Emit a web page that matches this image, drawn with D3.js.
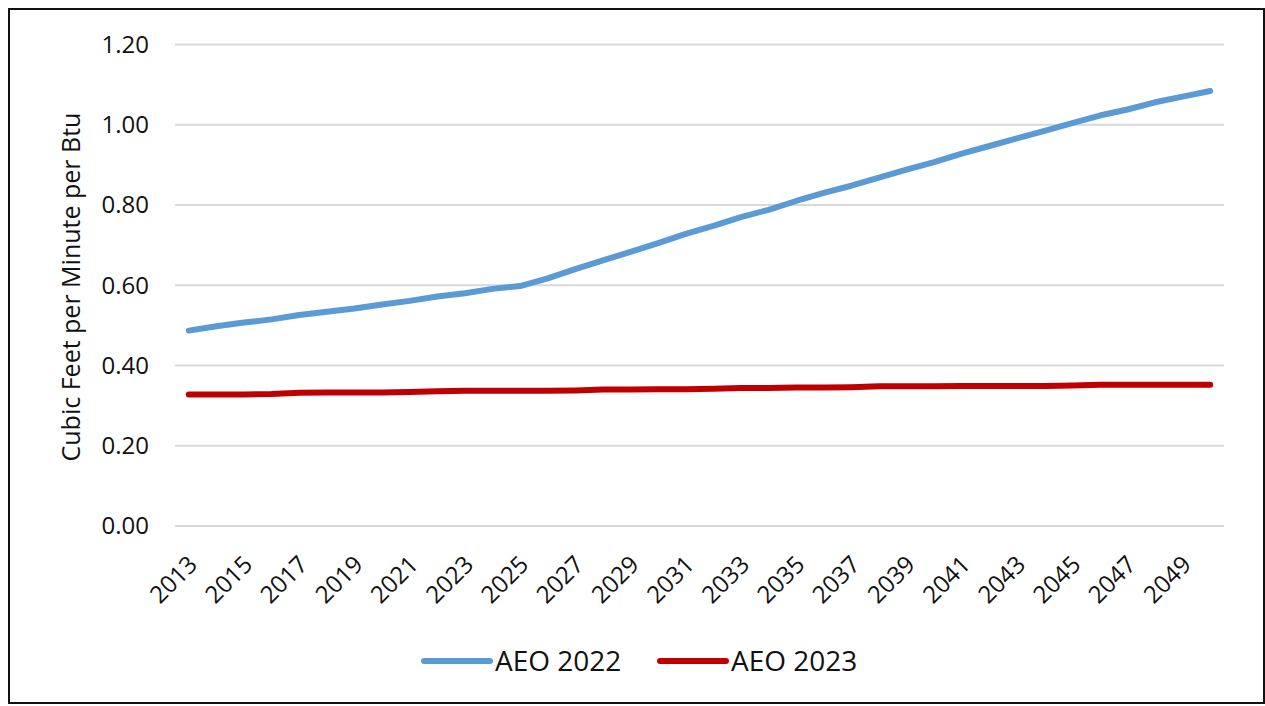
<!DOCTYPE html>
<html>
<head>
<meta charset="utf-8">
<script src="https://cdn.jsdelivr.net/npm/d3@7"></script>
<style>
  body { margin: 0; background: #fff; }
  text { font-family: "Open Sans", sans-serif; fill: #111; }
</style>
</head>
<body>
<div id="plot"></div>
<script>
// data
let years = d3.range(2013, 2051);
let aeo2022 = [0.487, 0.498, 0.507, 0.515, 0.526, 0.534, 0.542, 0.552, 0.561, 0.572,
	0.580, 0.591, 0.598, 0.617, 0.640, 0.662, 0.683, 0.705, 0.728, 0.748,
	0.770, 0.788, 0.810, 0.830, 0.848, 0.868, 0.888, 0.907, 0.928, 0.947,
	0.966, 0.985, 1.004, 1.023, 1.038, 1.056, 1.070, 1.084];
let aeo2023 = [0.328, 0.328, 0.328, 0.329, 0.332, 0.333, 0.333, 0.333, 0.334, 0.336,
	0.337, 0.337, 0.337, 0.337, 0.338, 0.340, 0.340, 0.341, 0.341, 0.342,
	0.344, 0.344, 0.345, 0.345, 0.346, 0.348, 0.348, 0.348, 0.349, 0.349,
	0.349, 0.349, 0.350, 0.352, 0.352, 0.352, 0.352, 0.352];
let yTicks = [0, 0.2, 0.4, 0.6, 0.8, 1.0, 1.2];
let seriesNames = ["AEO 2022", "AEO 2023"];
let seriesColors = ["#5b9bd5", "#c00000"];

let W = 1265, H = 706;
let svg = d3.select("#plot").append("svg")
	.attr("width", W)
	.attr("height", H);

// outer frame
svg.append("rect")
	.attr("x", 9).attr("y", 9)
	.attr("width", 1255).attr("height", 694)
	.attr("fill", "white")
	.attr("stroke", "#111")
	.attr("stroke-width", 2);

let x = d3.scaleBand()
	.domain(years)
	.range([175, 1224]);

let y = d3.scaleLinear()
	.domain([0, 1.2])
	.range([526, 44.5]);

// gridlines
svg.append("g")
	.selectAll("line")
	.data(yTicks)
	.enter()
	.append("line")
		.attr("x1", 175).attr("x2", 1224)
		.attr("y1", d => y(d)).attr("y2", d => y(d))
		.attr("stroke", "#d9d9d9")
		.attr("stroke-width", 2);

// y tick labels
svg.append("g")
	.selectAll("text")
	.data(yTicks)
	.enter()
	.append("text")
		.attr("x", 149)
		.attr("y", d => y(d))
		.attr("dy", "0.35em")
		.attr("text-anchor", "end")
		.style("font-size", "24px")
		.text(d => d.toFixed(2));

// x tick labels, every other year
svg.append("g")
	.selectAll("text")
	.data(years.filter((d, i) => i % 2 == 0))
	.enter()
	.append("text")
		.attr("text-anchor", "end")
		.attr("transform", d => "translate(" + (x(d) + x.bandwidth()/2 + 10) + ",566) rotate(-45)")
		.style("font-size", "24px")
		.text(d => d);

// y axis title
svg.append("text")
	.attr("transform", "translate(80,287) rotate(-90)")
	.attr("text-anchor", "middle")
	.style("font-size", "25px")
	.text("Cubic Feet per Minute per Btu");

// lines
let line = d3.line()
	.x((d, i) => x(years[i]) + x.bandwidth()/2)
	.y(d => y(d));

[aeo2022, aeo2023].forEach((s, k) => {
	svg.append("path")
		.datum(s)
		.attr("d", line)
		.attr("fill", "none")
		.attr("stroke", seriesColors[k])
		.attr("stroke-width", 6)
		.attr("stroke-linecap", "round")
		.attr("stroke-linejoin", "round");
});

// legend
let legX = [424, 660];
seriesNames.forEach((n, k) => {
	svg.append("line")
		.attr("x1", legX[k]).attr("x2", legX[k] + 66)
		.attr("y1", 661).attr("y2", 661)
		.attr("stroke", seriesColors[k])
		.attr("stroke-width", 6)
		.attr("stroke-linecap", "round");
	svg.append("text")
		.attr("x", legX[k] + 71)
		.attr("y", 661)
		.attr("dy", "0.35em")
		.style("font-size", "28px")
		.text(n);
});
</script>
</body>
</html>
